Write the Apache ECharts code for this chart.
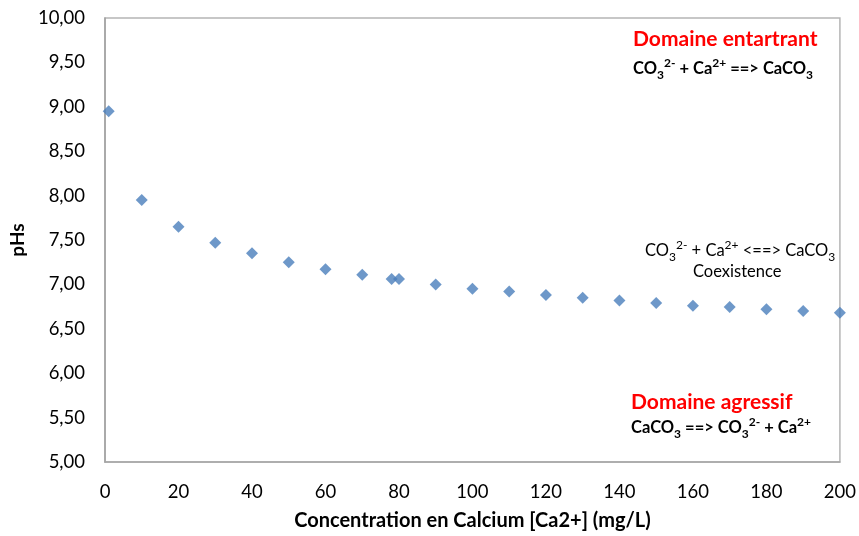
<!DOCTYPE html>
<html>
<head>
<meta charset="utf-8">
<script src="https://cdn.jsdelivr.net/npm/echarts@6/dist/echarts.min.js"></script>
<style>html,body{margin:0;padding:0;background:#fff}#c{width:859px;height:536px}</style>
</head>
<body>
<div id="c"></div>
<script>
const calcium = [1, 10, 20, 30, 40, 50, 60, 70, 78, 80, 90, 100, 110, 120, 130, 140, 150, 160, 170, 180, 190, 200];
const pHs = [8.95, 7.95, 7.65, 7.47, 7.35, 7.25, 7.17, 7.11, 7.06, 7.06, 7.00, 6.95, 6.92, 6.88, 6.85, 6.82, 6.79, 6.76, 6.745, 6.72, 6.70, 6.68];
const xTitle = 'Concentration en Calcium [Ca2+] (mg/L)';
const yTitle = 'pHs';

const FONT = 'Lato, "Open Sans", sans-serif';
const chart = echarts.init(document.getElementById('c'), null, {renderer: 'canvas'});

const rich = {
  n: {fontFamily: FONT, fontSize: 16.5, color: '#000', lineHeight: 24},
  sub: {fontFamily: FONT, fontSize: 12, color: '#000', lineHeight: 24, verticalAlign: 'bottom'},
  sup: {fontFamily: FONT, fontSize: 12, color: '#000', lineHeight: 24, verticalAlign: 'top'},
  b: {fontFamily: FONT, fontSize: 16.5, fontWeight: 'bold', color: '#000', lineHeight: 24},
  bsub: {fontFamily: FONT, fontSize: 12, fontWeight: 'bold', color: '#000', lineHeight: 24, verticalAlign: 'bottom'},
  bsup: {fontFamily: FONT, fontSize: 12, fontWeight: 'bold', color: '#000', lineHeight: 24, verticalAlign: 'top'}
};

function txt(x, y, text, extra) {
  return {
    type: 'text', left: x, top: y,
    style: Object.assign({text: text, rich: rich, fontFamily: FONT}, extra || {})
  };
}

chart.setOption({
  animation: false,
  backgroundColor: '#fff',
  grid: {left: 104, top: 18, right: 18, bottom: 74, show: true, borderColor: '#b5b5b5', borderWidth: 1.5, backgroundColor: 'transparent'},
  xAxis: {
    type: 'value', min: 0, max: 200, interval: 20,
    name: xTitle, nameLocation: 'middle', nameGap: 49,
    nameTextStyle: {fontFamily: FONT, fontSize: 20, fontWeight: 'bold', color: '#000'},
    axisLine: {show: true, lineStyle: {color: '#a6a6a6', width: 1.5}},
    axisTick: {show: false},
    splitLine: {show: false},
    axisLabel: {fontFamily: FONT, fontSize: 18.5, color: '#000', margin: 21}
  },
  yAxis: {
    type: 'value', min: 5, max: 10, interval: 0.5,
    name: yTitle, nameLocation: 'middle', nameGap: 75, nameRotate: 90,
    nameTextStyle: {fontFamily: FONT, fontSize: 19, fontWeight: 'bold', color: '#000'},
    axisLine: {show: true, lineStyle: {color: '#a0a0a0', width: 1.5}},
    axisTick: {show: false},
    splitLine: {show: false},
    axisLabel: {fontFamily: FONT, fontSize: 18.5, color: '#000', margin: 20,
      formatter: v => v.toFixed(2).replace('.', ',')}
  },
  series: [{
    type: 'scatter',
    data: calcium.map((c, i) => [c, pHs[i]]),
    symbol: 'diamond', symbolSize: [12, 12],
    itemStyle: {color: '#4a7ebb'}
  }],
  graphic: [
    txt(633, 29, 'Domaine entartrant', {fontSize: 21, fontWeight: 'bold', fill: '#ff0000'}),
    txt(633, 57, '{b|CO}{bsub|3}{bsup|2-}{b| + Ca}{bsup|2+}{b| ==> CaCO}{bsub|3}'),
    txt(645, 239, '{n|CO}{sub|3}{sup|2-}{n| + Ca}{sup|2+}{n| <==> CaCO}{sub|3}'),
    txt(693, 263, 'Coexistence', {fontSize: 16.5, fill: '#000'}),
    txt(631, 392, 'Domaine agressif', {fontSize: 21, fontWeight: 'bold', fill: '#ff0000'}),
    txt(631, 416, '{b|CaCO}{bsub|3}{b| ==> CO}{bsub|3}{bsup|2-}{b| + Ca}{bsup|2+}')
  ]
});
</script>
</body>
</html>
